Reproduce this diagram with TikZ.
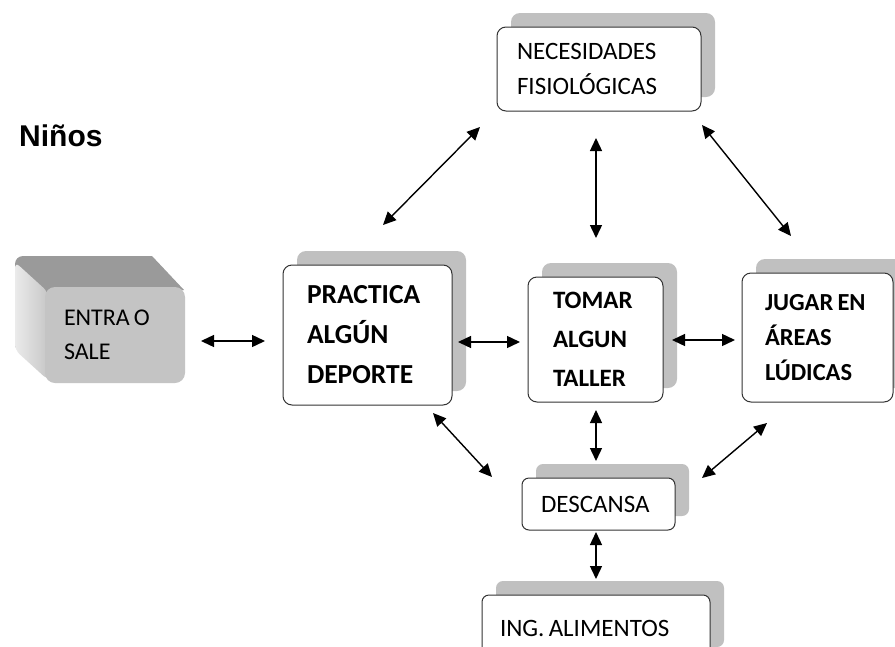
\documentclass[tikz,border=0pt]{standalone}
\usepackage{fontspec}
\setmainfont{Carlito}
\newfontfamily\arialb{Liberation Sans}
\usetikzlibrary{arrows.meta,shadows}
\definecolor{shadowc}{HTML}{C0C0C0}
\definecolor{cubefront}{HTML}{C4C4C4}
\definecolor{cubetop}{HTML}{9A9A9A}
\frenchspacing
\newcommand{\tsp}{\hspace{0.17em}}
\begin{document}
\begin{tikzpicture}[x=1pt,y=-1pt,
  bx/.style={draw=black!80, line width=1pt, fill=white, rounded corners=9pt, align=left,
    general shadow={shadow xshift=14pt, shadow yshift=14pt, fill=shadowc, draw=none}},
  regtxt/.style={font=\fontsize{25}{35}\selectfont},
  dar/.style={line width=1.4pt, {Triangle[length=13pt,width=12pt]}-{Triangle[length=13pt,width=12pt]}}]
\clip (0,0) rectangle (895,646);
\fill[white] (0,0) rectangle (895,646);

% title
\node[anchor=west, inner sep=0pt, font=\arialb\fontsize{30}{30}\selectfont\bfseries] (title) at (19,136) {Niños};

% 3D box "ENTRA O SALE"
\fill[cubetop, rounded corners=8pt] (15,256) rectangle (155,352);
\shade[left color=white!92!black, right color=black!22, rounded corners=6pt]
  (15,262) -- (48,292) -- (48,380) -- (15,350) -- cycle;
\fill[cubetop] (24,256) -- (152,256) -- (184,290) -- (50,290) -- cycle;
\node[fill=cubefront, rounded corners=10pt, minimum width=140pt, minimum height=96pt,
  text width=102pt, inner xsep=19pt, align=left, font=\fontsize{24}{34}\selectfont] (entra) at (115,335) {ENTRA\tsp O\\SALE};

% boxes
\node[bx, regtxt, text width=164pt, inner xsep=20pt, minimum height=84pt] (nec) at (599,69) {NECESIDADES\\FISIOLÓGICAS};
\node[bx, font=\fontsize{27.5}{40}\selectfont\bfseries, text width=121pt, inner xsep=24pt, minimum height=140pt] (prac) at (367.5,335) {PRACTICA\\ALGÚN\\DEPORTE};
\node[bx, font=\fontsize{25}{39}\selectfont\bfseries, text width=85pt, inner xsep=25pt, minimum height=125pt] (tomar) at (595.5,339.5) {TOMAR\\ALGUN\\TALLER};
\node[bx, font=\fontsize{24.5}{35}\selectfont\bfseries, text width=105pt, inner xsep=23pt, minimum height=129pt] (jugar) at (817.5,337.5) {JUGAR\tsp EN\\ÁREAS\\LÚDICAS};
\node[bx, regtxt, rounded corners=7pt, text width=115pt, inner xsep=19pt, minimum height=52pt] (desc) at (598.5,504) {DESCANSA};
\node[bx, regtxt, rounded corners=7pt, text width=192pt, inner xsep=18pt, minimum height=66pt] (ing) at (596,628) {ING.\tsp ALIMENTOS};

% arrow end points
\coordinate (a1) at (201,341); \coordinate (a2) at (265,341);
\coordinate (b1) at (458,342); \coordinate (b2) at (520,342);
\coordinate (c1) at (672,340); \coordinate (c2) at (735,340);
\coordinate (d1) at (480,127); \coordinate (d2) at (383,225);
\coordinate (e1) at (596,138); \coordinate (e2) at (596,238);
\coordinate (f1) at (702,125); \coordinate (f2) at (791,236);
\coordinate (g1) at (433,413); \coordinate (g2) at (492,477);
\coordinate (h1) at (596,410); \coordinate (h2) at (596,461);
\coordinate (i1) at (767,423); \coordinate (i2) at (702,478);
\coordinate (j1) at (596,532); \coordinate (j2) at (596,579);

\draw[dar] (a1) -- (a2);
\draw[dar] (b1) -- (b2);
\draw[dar] (c1) -- (c2);
\draw[dar] (d1) -- (d2);
\draw[dar] (e1) -- (e2);
\draw[dar] (f1) -- (f2);
\draw[dar] (g1) -- (g2);
\draw[dar] (h1) -- (h2);
\draw[dar] (i1) -- (i2);
\draw[dar] (j1) -- (j2);
\end{tikzpicture}
\end{document}
